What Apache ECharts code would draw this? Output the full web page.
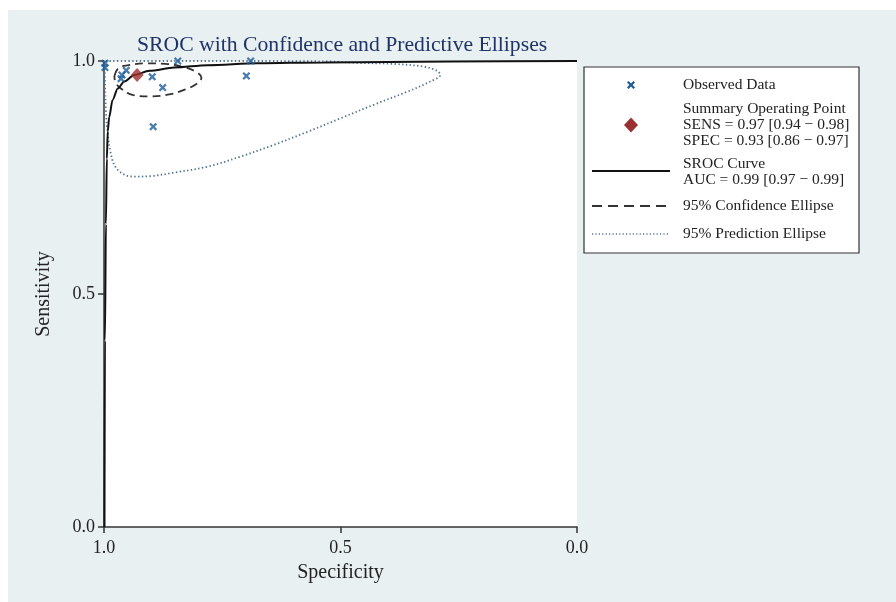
<!DOCTYPE html>
<html>
<head>
<meta charset="utf-8">
<script src="https://cdn.jsdelivr.net/npm/echarts@6/dist/echarts.min.js"></script>
<style>
  html, body { margin: 0; padding: 0; background: #ffffff; }
  #frame { position: absolute; left: 8px; top: 10px; width: 888px; height: 592px; background: #e9f0f2; }
  #chart { position: absolute; left: 0; top: 0; width: 896px; height: 602px; }
</style>
</head>
<body>
<div id="frame"></div>
<div id="chart"></div>
<script>
// Axis ticks (specificity runs from 1.0 on the left to 0.0 on the right)
const specTicks = [1.0, 0.5, 0.0];
const sensTicks = [0.0, 0.5, 1.0];

// Individual studies: specificity / sensitivity
const obsSpec = [0.998, 0.998, 0.953, 0.962, 0.964, 0.898, 0.844, 0.876, 0.690, 0.699, 0.896];
const obsSens = [0.995, 0.986, 0.980, 0.970, 0.962, 0.966, 1.000, 0.943, 1.000, 0.968, 0.859];

// Summary operating point
const summarySpec = 0.93;
const summarySens = 0.97;

// SROC curve
const srocSpec = [0.999, 0.998, 0.996, 0.994, 0.992, 0.989, 0.982, 0.971, 0.957, 0.936, 0.904, 0.851, 0.781, 0.675, 0.535, 0.266, 0.000];
const srocSens = [0.000, 0.400, 0.650, 0.790, 0.850, 0.880, 0.916, 0.941, 0.956, 0.970, 0.979, 0.986, 0.991, 0.995, 0.997, 0.999, 1.000];

// 95% confidence ellipse outline
const confSpec = [0.978, 0.969, 0.948, 0.912, 0.870, 0.832, 0.804, 0.794, 0.804, 0.828, 0.859, 0.902, 0.938, 0.963, 0.976, 0.978];
const confSens = [0.968, 0.985, 0.991, 0.995, 0.994, 0.987, 0.976, 0.964, 0.951, 0.939, 0.929, 0.924, 0.927, 0.940, 0.955, 0.968];

// 95% prediction ellipse outline (upper part limited to sensitivity 1.0)
const predSpec = [0.999, 0.998, 0.996, 0.993, 0.986, 0.976, 0.955, 0.933, 0.900, 0.855, 0.782, 0.711, 0.641, 0.570, 0.500, 0.430, 0.359, 0.310, 0.289, 0.296, 0.324, 0.394, 0.465, 0.521, 0.700, 0.850, 0.999];
const predSens = [1.000, 0.959, 0.895, 0.852, 0.803, 0.773, 0.755, 0.752, 0.753, 0.760, 0.773, 0.795, 0.820, 0.848, 0.877, 0.906, 0.934, 0.956, 0.970, 0.979, 0.988, 0.994, 0.996, 0.999, 1.000, 1.000, 1.000];

const pairs = (xs, ys) => xs.map((x, i) => [x, ys[i]]);

const SERIF = 'Liberation Serif, Times New Roman, serif';
const TEXT = '#222222';
const OBS_COLOR = '#1c5c98';
const SUM_COLOR = '#9b3030';
const PRED_COLOR = '#56758f';
const X_MARK = 'path://M2,0L5,3L8,0L10,2L7,5L10,8L8,10L5,7L2,10L0,8L3,5L0,2Z';
const X_OUTLINE = [[2,0],[5,3],[8,0],[10,2],[7,5],[10,8],[8,10],[5,7],[2,10],[0,8],[3,5],[0,2]];

const chart = echarts.init(document.getElementById('chart'));

// Legend panel on the right
const legendLeft = 584, legendTop = 67;
const keyX = 631, textX = 683;
function legendText(y, str) {
  return { type: 'text', x: textX, y: y,
    style: { text: str, fill: TEXT, font: '15.5px ' + SERIF, textVerticalAlign: 'middle', verticalAlign: 'middle' } };
}
const legendGraphic = [
  { type: 'rect', shape: { x: legendLeft, y: legendTop, width: 275, height: 186 },
    style: { fill: '#ffffff', stroke: '#333333', lineWidth: 1.2 }, z: 10 },
  { type: 'polygon', z: 11,
    shape: { points: X_OUTLINE.map(p => [keyX - 4 + p[0] * 0.8, 85 - 4 + p[1] * 0.8]) },
    style: { fill: OBS_COLOR } },
  { type: 'polygon', z: 11, shape: { points: [[keyX, 117.5], [keyX + 7, 125], [keyX, 132.5], [keyX - 7, 125]] },
    style: { fill: SUM_COLOR } },
  { type: 'line', z: 11, shape: { x1: 592, y1: 171, x2: 670, y2: 171 },
    style: { stroke: '#111111', lineWidth: 2 } },
  { type: 'line', z: 11, shape: { x1: 592, y1: 206, x2: 670, y2: 206 },
    style: { stroke: '#333333', lineWidth: 1.8, lineDash: [10, 6] } },
  { type: 'line', z: 11, shape: { x1: 592, y1: 234, x2: 670, y2: 234 },
    style: { stroke: PRED_COLOR, lineWidth: 1.3, lineDash: [1.2, 2.2] } }
].concat([
  legendText(85, 'Observed Data'),
  legendText(109, 'Summary Operating Point'),
  legendText(125, 'SENS = 0.97 [0.94 \u2212 0.98]'),
  legendText(141, 'SPEC = 0.93 [0.86 \u2212 0.97]'),
  legendText(164, 'SROC Curve'),
  legendText(180, 'AUC = 0.99 [0.97 \u2212 0.99]'),
  legendText(206, '95% Confidence Ellipse'),
  legendText(234, '95% Prediction Ellipse')
].map(t => Object.assign(t, { z: 11 })));

chart.setOption({
  animation: false,
  backgroundColor: 'transparent',
  title: {
    text: 'SROC with Confidence and Predictive Ellipses',
    left: 132, top: 29,
    textStyle: { fontFamily: SERIF, fontSize: 21.7, fontWeight: 'normal', color: '#1f3368' }
  },
  grid: { left: 104, right: 319, top: 61, bottom: 75, show: true, backgroundColor: '#ffffff', borderWidth: 0 },
  xAxis: {
    type: 'value', inverse: true, min: 0, max: 1, interval: 0.5,
    name: 'Specificity', nameLocation: 'middle', nameGap: 36,
    nameTextStyle: { fontFamily: SERIF, fontSize: 20, color: TEXT },
    axisLine: { show: true, onZero: false, lineStyle: { color: '#333333', width: 1.5 } },
    axisTick: { show: true, length: 6, lineStyle: { color: '#333333', width: 1.5 } },
    axisLabel: { margin: 12, fontFamily: SERIF, fontSize: 18, color: TEXT,
      formatter: v => (specTicks.includes(v) ? v.toFixed(1) : '') },
    splitLine: { show: false }
  },
  yAxis: {
    type: 'value', position: 'left', min: 0, max: 1, interval: 0.5,
    name: 'Sensitivity', nameLocation: 'middle', nameGap: 50,
    nameTextStyle: { fontFamily: SERIF, fontSize: 20, color: TEXT },
    axisLine: { show: true, onZero: false, lineStyle: { color: '#333333', width: 1.5 } },
    axisTick: { show: true, length: 6, lineStyle: { color: '#333333', width: 1.5 } },
    axisLabel: { margin: 9, fontFamily: SERIF, fontSize: 18, color: TEXT,
      formatter: v => (sensTicks.includes(v) ? v.toFixed(1) : '') },
    splitLine: { show: false }
  },
  graphic: legendGraphic,
  series: [
    {
      name: '95% Prediction Ellipse', type: 'line', data: pairs(predSpec, predSens),
      smooth: 0.35, symbol: 'none', clip: true,
      lineStyle: { color: PRED_COLOR, width: 1.8, type: [1.4, 2.4] }, z: 2
    },
    {
      name: '95% Confidence Ellipse', type: 'line', data: pairs(confSpec, confSens),
      smooth: 0.4, symbol: 'none', clip: true,
      lineStyle: { color: '#333333', width: 1.8, type: [8, 5] }, z: 3
    },
    {
      name: 'SROC Curve', type: 'line', data: pairs(srocSpec, srocSens),
      smooth: 0.3, smoothMonotone: 'x', symbol: 'none', clip: false,
      lineStyle: { color: '#111111', width: 2 }, z: 4
    },
    {
      name: 'Observed Data', type: 'scatter', data: pairs(obsSpec, obsSens),
      symbol: X_MARK, symbolSize: 8, clip: false,
      itemStyle: { color: OBS_COLOR }, z: 5
    },
    {
      name: 'Summary Operating Point', type: 'scatter', data: [[summarySpec, summarySens]],
      symbol: 'diamond', symbolSize: [13, 14], clip: false,
      itemStyle: { color: SUM_COLOR }, z: 6
    }
  ]
});
</script>
</body>
</html>
